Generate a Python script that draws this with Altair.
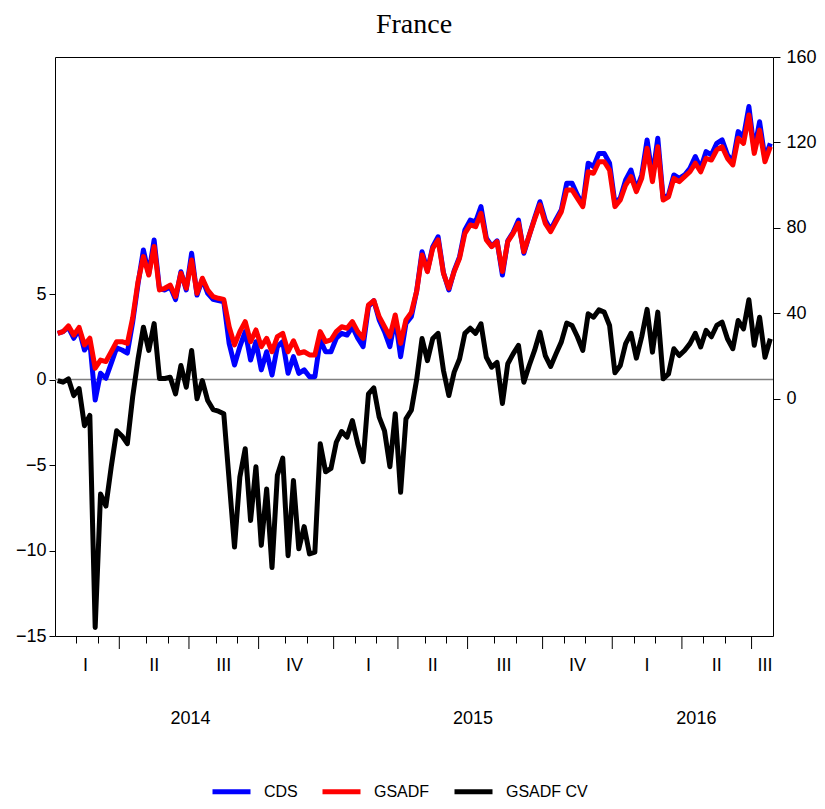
import altair as alt
import pandas as pd

# ---- data (weekly observations, Jan 2014 - Jul 2016) ----
cds = [30.7, 31.5, 33.5, 28.4, 32.5, 22.9, 26.8, -0.5, 12.0, 9.7,
       16.8, 23.9, 22.9, 21.5, 36.0, 54.0, 69.7, 58.5, 74.4, 51.5,
       51.0, 52.5, 46.5, 59.5, 51.0, 68.2, 48.6, 56.0, 49.4, 46.6,
       46.0, 45.5, 26.0, 15.9, 24.5, 31.5, 18.2, 26.8, 13.6, 22.1,
       11.2, 24.5, 26.8, 12.0, 19.8, 12.0, 13.6, 10.4, 10.4, 27.6,
       22.1, 22.1, 28.4, 30.7, 29.9, 33.8, 28.4, 24.5, 43.2, 46.0,
       37.0, 31.5, 24.5, 37.8, 19.8, 35.4, 38.5, 50.5, 68.9, 60.0,
       71.3, 75.9, 59.0, 51.0, 60.0, 66.5, 79.1, 83.7, 82.9, 90.0,
       75.2, 71.5, 74.0, 58.0, 74.0, 78.0, 83.7, 68.2, 76.5, 84.5,
       92.3, 83.7, 79.1, 84.0, 88.5, 100.9, 100.9, 95.4, 90.8, 110.3,
       108.7, 114.9, 114.9, 110.3, 91.5, 94.0, 102.5, 107.1, 97.8, 104.8,
       121.2, 104.0, 122.0, 93.9, 95.5, 104.8, 103.2, 104.8, 107.9, 113.4,
       107.9, 115.7, 114.2, 119.6, 121.2, 114.2, 111.0, 125.1, 122.7, 136.8,
       116.5, 129.7, 112.6, 119.6]

gsadf = [30.7, 31.5, 34.2, 29.9, 33.5, 25.3, 28.4, 14.4, 18.2, 17.5,
         22.1, 26.8, 26.8, 26.0, 38.0, 55.0, 66.6, 58.0, 71.3, 51.0,
         51.8, 53.3, 47.9, 58.8, 51.8, 65.0, 49.4, 56.5, 51.0, 47.9,
         47.1, 46.6, 33.8, 25.3, 31.5, 36.2, 26.8, 32.3, 24.5, 28.4,
         22.1, 29.2, 30.7, 22.1, 27.2, 21.4, 22.1, 20.6, 20.6, 31.5,
         26.8, 27.6, 31.5, 33.8, 33.1, 36.2, 31.5, 28.4, 44.0, 46.0,
         38.5, 33.8, 29.2, 39.3, 26.0, 37.0, 40.5, 50.5, 67.4, 59.6,
         70.5, 74.4, 58.8, 51.8, 59.6, 65.8, 77.5, 81.4, 80.6, 86.9,
         74.4, 71.3, 73.6, 59.6, 73.6, 77.5, 82.2, 68.9, 76.5, 84.0,
         90.8, 82.2, 78.3, 83.0, 87.6, 97.8, 97.8, 93.9, 90.0, 106.3,
         105.6, 111.0, 111.0, 107.1, 90.0, 93.1, 100.1, 104.0, 97.0, 103.2,
         117.3, 101.7, 118.0, 93.1, 94.6, 103.2, 101.7, 104.0, 106.3, 110.3,
         106.3, 112.6, 111.8, 116.5, 118.0, 112.6, 109.5, 122.0, 119.6, 132.9,
         114.9, 125.8, 111.0, 118.0]

gsadf_cv = [-0.06, -0.16, 0.04, -0.94, -0.53, -2.7, -2.1, -14.5, -6.7, -7.4,
            -5.1, -3.0, -3.3, -3.75, -1.0, 1.2, 3.06, 1.7, 3.27, 0.06,
            0.06, 0.13, -0.84, 0.82, -0.45, 1.7, -1.13, -0.06, -1.23, -1.76,
            -1.85, -2.0, -5.9, -9.8, -5.7, -4.05, -8.25, -5.1, -9.7, -6.4,
            -11.0, -5.6, -4.6, -10.3, -5.9, -9.9, -8.6, -10.2, -10.1, -3.76,
            -5.4, -5.2, -3.67, -3.04, -3.37, -2.4, -3.76, -4.8, -0.84, -0.49,
            -2.2, -3.0, -5.1, -2.0, -6.6, -2.3, -1.8, 0.0, 2.4, 1.1,
            2.4, 2.7, 0.53, -0.94, 0.43, 1.2, 2.7, 3.0, 2.7, 3.26,
            1.3, 0.72, 1.0, -1.4, 0.92, 1.5, 2.0, -0.16, 0.82, 1.7,
            2.77, 1.4, 0.76, 1.5, 2.2, 3.3, 3.16, 2.5, 1.7, 3.84,
            3.64, 4.07, 3.94, 3.16, 0.39, 0.82, 2.1, 2.7, 1.25, 2.5,
            4.1, 1.6, 3.94, 0.04, 0.33, 1.8, 1.4, 1.7, 2.1, 2.7,
            1.9, 2.87, 2.5, 3.16, 3.35, 2.38, 1.8, 3.45, 2.96, 4.66,
            2.0, 3.64, 1.3, 2.38]

series_names = ["CDS", "GSADF", "GSADF CV"]
series_colors = ["#0000ff", "#ff0000", "#000000"]

# axis ticks / labels on the observation index scale
month_ticks = [3.5, 7.5, 16.5, 20.5, 29.5, 33.5, 42.5, 46.5, 55.5, 59.5,
               68.5, 72.5, 81.5, 85.5, 94.5, 98.5, 107.5, 111.5, 120.5, 124.5]
quarter_ticks = [11.5, 24.5, 37.5, 51.5, 63.5, 76.5, 90.5, 103.5, 116.5, 129.5]
quarter_pos = [5.2, 18.0, 31.0, 44.2, 58.0, 70.0, 83.3, 97.0, 110.0, 123.0, 132.0]
quarter_labels = ["I", "II", "III", "IV", "I", "II", "III", "IV", "I", "II", "III"]
year_pos = [24.8, 77.5, 119.2]
year_labels = ["2014", "2015", "2016"]

left_ticks = [-15, -10, -5, 0, 5]
right_ticks = [0, 40, 80, 120, 160]

W, H = 718, 579
FONT = "Liberation Sans"

n = len(cds)
weeks = list(range(n))
df_cds = pd.DataFrame({"week": weeks, "value": cds, "series": "CDS"})
df_gsadf = pd.DataFrame({"week": weeks, "value": gsadf, "series": "GSADF"})
df_cv = pd.DataFrame({"week": weeks, "value": gsadf_cv, "series": "GSADF CV"})
df_zero = pd.DataFrame({"value": [0]})
df_major = pd.DataFrame({"week": quarter_ticks})
df_q = pd.DataFrame({"week": quarter_pos, "label": quarter_labels})
df_y = pd.DataFrame({"week": year_pos, "label": year_labels})

x_scale = alt.Scale(domain=[-0.5, n - 0.5], nice=False, zero=False)
x_axis = alt.Axis(values=month_ticks, tickSize=7, tickColor="black", tickWidth=1,
                  labels=False, domain=False, grid=False, title=None)


def X():
    return alt.X("week:Q", scale=x_scale, axis=x_axis)


left_scale = alt.Scale(domain=[-15, 18.86], nice=False, zero=False)
left_axis = alt.Axis(orient="left", values=left_ticks, tickSize=6, tickColor="black",
                     labelFont=FONT, labelFontSize=18, labelColor="black", labelPadding=3,
                     labelFlush=False, domain=False, grid=False, title=None)
right_scale = alt.Scale(domain=[-110.9, 160], nice=False, zero=False)
right_axis = alt.Axis(orient="right", values=right_ticks, tickSize=7, tickColor="black",
                      labelFont=FONT, labelFontSize=18, labelColor="black", labelPadding=6,
                      labelFlush=False, domain=False, grid=False, title=None)


def YL():
    return alt.Y("value:Q", scale=left_scale, axis=left_axis)


def YR():
    return alt.Y("value:Q", scale=right_scale, axis=right_axis)


color_scale = alt.Scale(domain=series_names, range=series_colors)
legend = alt.Legend(orient="none", legendX=155, legendY=713, direction="horizontal",
                    title=None, symbolType="stroke", symbolSize=1444, symbolStrokeWidth=5,
                    labelFont=FONT, labelFontSize=16, labelColor="black", labelOffset=11,
                    columnPadding=14)


def C():
    return alt.Color("series:N", scale=color_scale, legend=legend)


zero_line = alt.Chart(df_zero).mark_rule(color="#808080", strokeWidth=1.5).encode(y=YL())

cv_line = alt.Chart(df_cv).mark_line(strokeWidth=5, strokeJoin="round").encode(
    x=X(), y=YL(), color=C())

major = alt.Chart(df_major).mark_rule(color="black", strokeWidth=1).encode(
    x=X(), y=alt.value(H), y2=alt.value(H + 13))

q_text = alt.Chart(df_q).mark_text(font=FONT, fontSize=18, color="black",
                                   baseline="middle", align="center").encode(
    x=X(), y=alt.value(H + 30), text="label:N")

y_text = alt.Chart(df_y).mark_text(font=FONT, fontSize=18, color="black",
                                   baseline="middle", align="center").encode(
    x=X(), y=alt.value(H + 83), text="label:N")

left = alt.layer(zero_line, major, q_text, y_text, cv_line)

cds_line = alt.Chart(df_cds).mark_line(strokeWidth=5, strokeJoin="round").encode(
    x=X(), y=YR(), color=C())
gsadf_line = alt.Chart(df_gsadf).mark_line(strokeWidth=5, strokeJoin="round").encode(
    x=X(), y=YR(), color=C())

right = alt.layer(cds_line, gsadf_line)

chart = alt.layer(left, right).resolve_scale(y="independent").properties(
    width=W, height=H,
    background="white",
    autosize=alt.AutoSizeParams(type="none"),
    padding={"left": 47, "top": 49, "right": 44, "bottom": 165},
    title=alt.Title("France", font="Liberation Serif", fontSize=28, fontWeight="normal",
                    anchor="middle", offset=9, color="black"),
).configure_view(stroke="black", strokeWidth=1)

chart.save("out.html", embed_options={"renderer": "svg", "actions": False})
